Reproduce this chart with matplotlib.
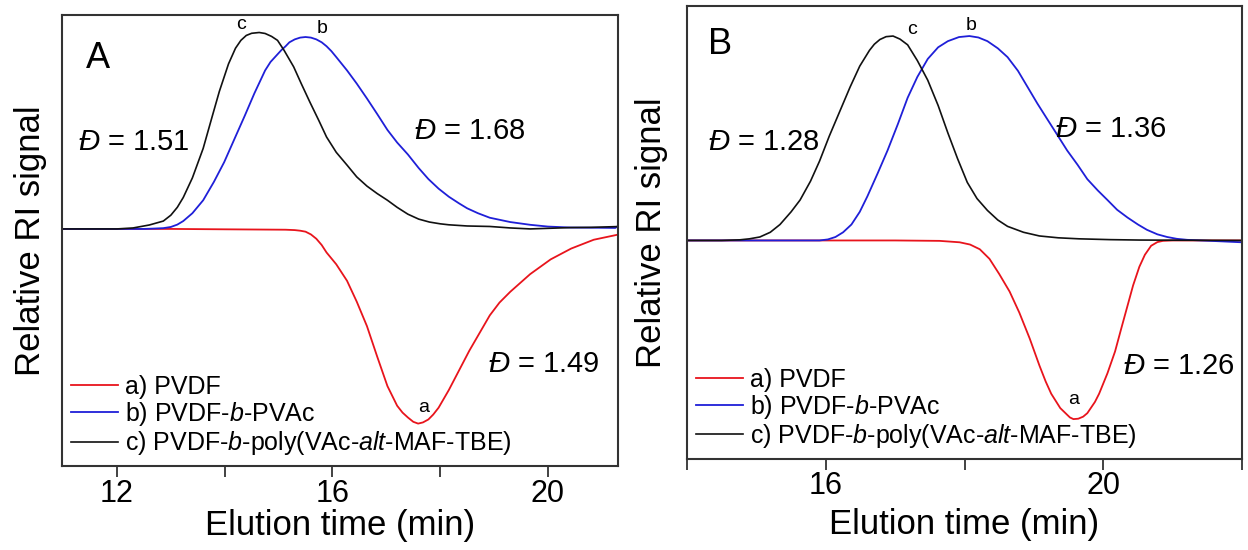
import matplotlib
matplotlib.use("Agg")
import matplotlib.pyplot as plt
import numpy as np

plt.rcParams['font.family'] = ['Liberation Sans', 'DejaVu Sans']
plt.rcParams['mathtext.fontset'] = 'custom'
plt.rcParams['mathtext.rm'] = 'Liberation Sans'
plt.rcParams['mathtext.it'] = 'Liberation Sans:italic'

RED = '#e8141c'
BLUE = '#1f1fd8'
BLACK = '#111111'

# ---- panel A (signal normalised to peak c = 1) ----
a_c_x = [11.0, 12.0, 12.3, 12.6, 12.86, 13.0, 13.12, 13.23, 13.4, 13.6, 13.77, 13.9,
         14.07, 14.2, 14.3, 14.4, 14.5, 14.64, 14.75, 14.87, 14.98, 15.1, 15.28, 15.42,
         15.58, 15.75, 15.89, 16.07, 16.27, 16.45, 16.64, 16.83, 17.02, 17.2, 17.4,
         17.6, 17.8, 18.0, 18.16, 18.5, 18.92, 19.3, 19.67, 20.0, 20.43, 20.8, 21.3]
a_c_y = [0.0, 0.0, 0.005, 0.02, 0.04, 0.07, 0.11, 0.16, 0.26, 0.41, 0.575, 0.70,
         0.84, 0.92, 0.96, 0.985, 0.996, 1.0, 0.995, 0.98, 0.96, 0.91, 0.825, 0.74,
         0.646, 0.55, 0.468, 0.39, 0.325, 0.265, 0.218, 0.18, 0.146, 0.11, 0.075,
         0.05, 0.035, 0.026, 0.021, 0.015, 0.0125, 0.005, 0.0, 0.003, 0.007, 0.008, 0.012]

a_b_x = [11.0, 12.5, 12.7, 12.86, 13.0, 13.12, 13.23, 13.4, 13.6, 13.8, 13.99, 14.2,
         14.37, 14.55, 14.75, 14.85, 14.95, 15.05, 15.13, 15.2, 15.3, 15.4, 15.5, 15.6,
         15.7, 15.8, 15.89, 15.98, 16.07, 16.27, 16.45, 16.64, 16.83, 17.02, 17.2,
         17.4, 17.6, 17.78, 17.97, 18.16, 18.35, 18.5, 18.7, 18.92, 19.3, 19.67, 20.0,
         20.43, 20.9, 21.25, 21.3]
a_b_y = [0.0, 0.0, 0.002, 0.004, 0.01, 0.022, 0.04, 0.08, 0.146, 0.24, 0.34, 0.47,
         0.575, 0.69, 0.807, 0.85, 0.88, 0.91, 0.93, 0.95, 0.965, 0.974, 0.977, 0.974,
         0.965, 0.95, 0.93, 0.905, 0.875, 0.807, 0.74, 0.664, 0.585, 0.504, 0.44,
         0.379, 0.31, 0.254, 0.205, 0.164, 0.13, 0.105, 0.08, 0.057, 0.035, 0.021,
         0.012, 0.007, 0.006, 0.005, 0.015]

a_a_x = [11.0, 13.0, 14.0, 15.13, 15.3, 15.4, 15.5, 15.6, 15.7, 15.8, 15.89, 16.07,
         16.27, 16.45, 16.64, 16.83, 17.02, 17.2, 17.3, 17.4, 17.5, 17.59, 17.68, 17.78,
         17.87, 17.97, 18.16, 18.35, 18.54, 18.73, 18.92, 19.1, 19.3, 19.67, 20.05,
         20.43, 20.85, 21.3]
a_a_y = [0.0, 0.0, -0.002, -0.004, -0.006, -0.009, -0.014, -0.028, -0.05, -0.082,
         -0.12, -0.18, -0.264, -0.37, -0.495, -0.65, -0.8, -0.9, -0.935, -0.96, -0.982,
         -0.991, -0.985, -0.97, -0.945, -0.91, -0.82, -0.72, -0.62, -0.53, -0.44,
         -0.375, -0.32, -0.23, -0.155, -0.10, -0.055, -0.029]

# ---- panel B ----
b_c_x = [14.0, 14.5, 14.76, 14.9, 15.05, 15.2, 15.34, 15.5, 15.63, 15.78, 15.91, 16.05,
         16.2, 16.35, 16.49, 16.63, 16.7, 16.78, 16.87, 16.97, 17.07, 17.18, 17.32,
         17.47, 17.62, 17.76, 17.9, 18.04, 18.18, 18.33, 18.48, 18.62, 18.85, 19.08,
         19.35, 19.65, 20.1, 20.52, 22.0]
b_c_y = [0.0, 0.0, 0.003, 0.008, 0.017, 0.04, 0.078, 0.14, 0.198, 0.29, 0.388, 0.51,
         0.63, 0.75, 0.853, 0.93, 0.96, 0.983, 0.997, 1.0, 0.985, 0.957, 0.88,
         0.784, 0.66, 0.526, 0.40, 0.284, 0.205, 0.147, 0.10, 0.069, 0.04, 0.022,
         0.013, 0.008, 0.004, 0.002, 0.0]

b_b_x = [14.0, 15.5, 15.91, 16.03, 16.14, 16.25, 16.37, 16.49, 16.6, 16.75, 16.89,
         17.04, 17.18, 17.32, 17.47, 17.62, 17.76, 17.92, 18.07, 18.2, 18.33, 18.48,
         18.62, 18.77, 18.91, 19.05, 19.19, 19.34, 19.48, 19.63, 19.77, 19.92, 20.06,
         20.2, 20.35, 20.5, 20.63, 20.78, 20.92, 21.06, 21.21, 21.55, 22.0]
b_b_y = [0.0, 0.0, 0.0, 0.005, 0.017, 0.04, 0.078, 0.14, 0.216, 0.33, 0.44, 0.57,
         0.698, 0.80, 0.888, 0.945, 0.975, 0.995, 1.0, 0.993, 0.975, 0.94,
         0.897, 0.83, 0.75, 0.67, 0.595, 0.515, 0.44, 0.37, 0.30, 0.245, 0.198,
         0.15, 0.112, 0.078, 0.052, 0.03, 0.017, 0.008, 0.003, -0.002, -0.009]

b_a_x = [14.0, 17.0, 17.64, 17.93, 18.08, 18.22, 18.36, 18.5, 18.65, 18.79, 18.94,
         19.08, 19.17, 19.25, 19.38, 19.48, 19.52, 19.57, 19.64, 19.71, 19.77, 19.82,
         19.88, 19.94, 20.06, 20.17, 20.26, 20.35, 20.43, 20.52, 20.6, 20.69, 20.78,
         20.86, 21.0, 22.0]
b_a_y = [0.0, 0.0, -0.002, -0.009, -0.02, -0.043, -0.09, -0.164, -0.25, -0.353,
         -0.48, -0.612, -0.69, -0.75, -0.82, -0.853, -0.866, -0.874, -0.872, -0.862,
         -0.845, -0.82, -0.79, -0.75, -0.65, -0.543, -0.43, -0.319, -0.22, -0.129,
         -0.07, -0.026, -0.008, -0.002, 0.0, 0.0]

labels = ['a) PVDF', 'b) PVDF-$\\it{b}$-PVAc', 'c) PVDF-$\\it{b}$-poly(VAc-$\\it{alt}$-MAF-TBE)']

disp_A = ['1.51', '1.68', '1.49']
disp_B = ['1.28', '1.36', '1.26']

fig = plt.figure(figsize=(12.48, 5.5), dpi=100)
axA = fig.add_axes([0.0497, 0.1527, 0.4455, 0.82])
axB = fig.add_axes([0.5505, 0.1655, 0.4447, 0.8236])


def style_axes(ax, xlim, ylim, ticks, ticklabels):
    ax.set_xlim(*xlim)
    ax.set_ylim(*ylim)
    ax.set_yticks([])
    ax.set_xticks(ticks, labels=ticklabels)
    ax.tick_params(axis='x', direction='out', length=8, width=1.3,
                   labelsize=22, pad=1, color='#333333')
    for s in ax.spines.values():
        s.set_color('#333333')
        s.set_linewidth(1.5)
    ax.set_xlabel('Elution time (min)', fontsize=25)
    ax.set_ylabel('Relative RI signal', fontsize=25)


# panel A
axA.plot(a_a_x, a_a_y, color=RED, lw=1.3, label=labels[0])
axA.plot(a_b_x, a_b_y, color=BLUE, lw=1.3, label=labels[1])
axA.plot(a_c_x, a_c_y, color=BLACK, lw=1.2, label=labels[2])
style_axes(axA, (10.98, 21.3), (-1.207, 1.089), [12, 14, 16, 18, 20],
           ['12', '', '16', '', '20'])
axA.xaxis.set_label_coords(0.5, -0.095)
axA.yaxis.set_label_coords(-0.027, 0.5)
axA.text(11.64, 0.87, 'A', fontsize=26, ha='center', va='center')
axA.text(14.3, 1.04, 'c', fontsize=14, ha='center', va='center')
axA.text(15.81, 1.02, 'b', fontsize=14, ha='center', va='center')
axA.text(17.7, -0.907, 'a', fontsize=14, ha='center', va='center')
axA.text(11.27, 0.44, '$\\it{Đ}$ = ' + disp_A[0], fontsize=21, ha='left', va='center')
axA.text(17.52, 0.50, '$\\it{Đ}$ = ' + disp_A[1], fontsize=21, ha='left', va='center')
axA.text(18.88, -0.69, '$\\it{Đ}$ = ' + disp_A[2], fontsize=21, ha='left', va='center')
axA.legend(loc='lower left', frameon=False, fontsize=18, handlelength=1.9,
           handletextpad=0.25, labelspacing=0.05, borderaxespad=0.2, borderpad=0.15)

# panel B
axB.plot(b_a_x, b_a_y, color=RED, lw=1.3, label=labels[0])
axB.plot(b_b_x, b_b_y, color=BLUE, lw=1.3, label=labels[1])
axB.plot(b_c_x, b_c_y, color=BLACK, lw=1.2, label=labels[2])
style_axes(axB, (14.0, 22.0), (-1.069, 1.147), [14, 16, 18, 20, 22],
           ['', '16', '', '20', ''])
axB.xaxis.set_label_coords(0.5, -0.108)
axB.yaxis.set_label_coords(-0.034, 0.5)
axB.text(14.47, 0.957, 'B', fontsize=26, ha='center', va='center')
axB.text(17.24, 1.034, 'c', fontsize=14, ha='center', va='center')
axB.text(18.1, 1.05, 'b', fontsize=14, ha='center', va='center')
axB.text(19.57, -0.776, 'a', fontsize=14, ha='center', va='center')
axB.text(14.3, 0.483, '$\\it{Đ}$ = ' + disp_B[0], fontsize=21, ha='left', va='center')
axB.text(19.31, 0.543, '$\\it{Đ}$ = ' + disp_B[1], fontsize=21, ha='left', va='center')
axB.text(20.28, -0.612, '$\\it{Đ}$ = ' + disp_B[2], fontsize=21, ha='left', va='center')
axB.legend(loc='lower left', frameon=False, fontsize=18, handlelength=1.9,
           handletextpad=0.25, labelspacing=0.05, borderaxespad=0.2, borderpad=0.15)

fig.savefig('out.png', dpi=100)
